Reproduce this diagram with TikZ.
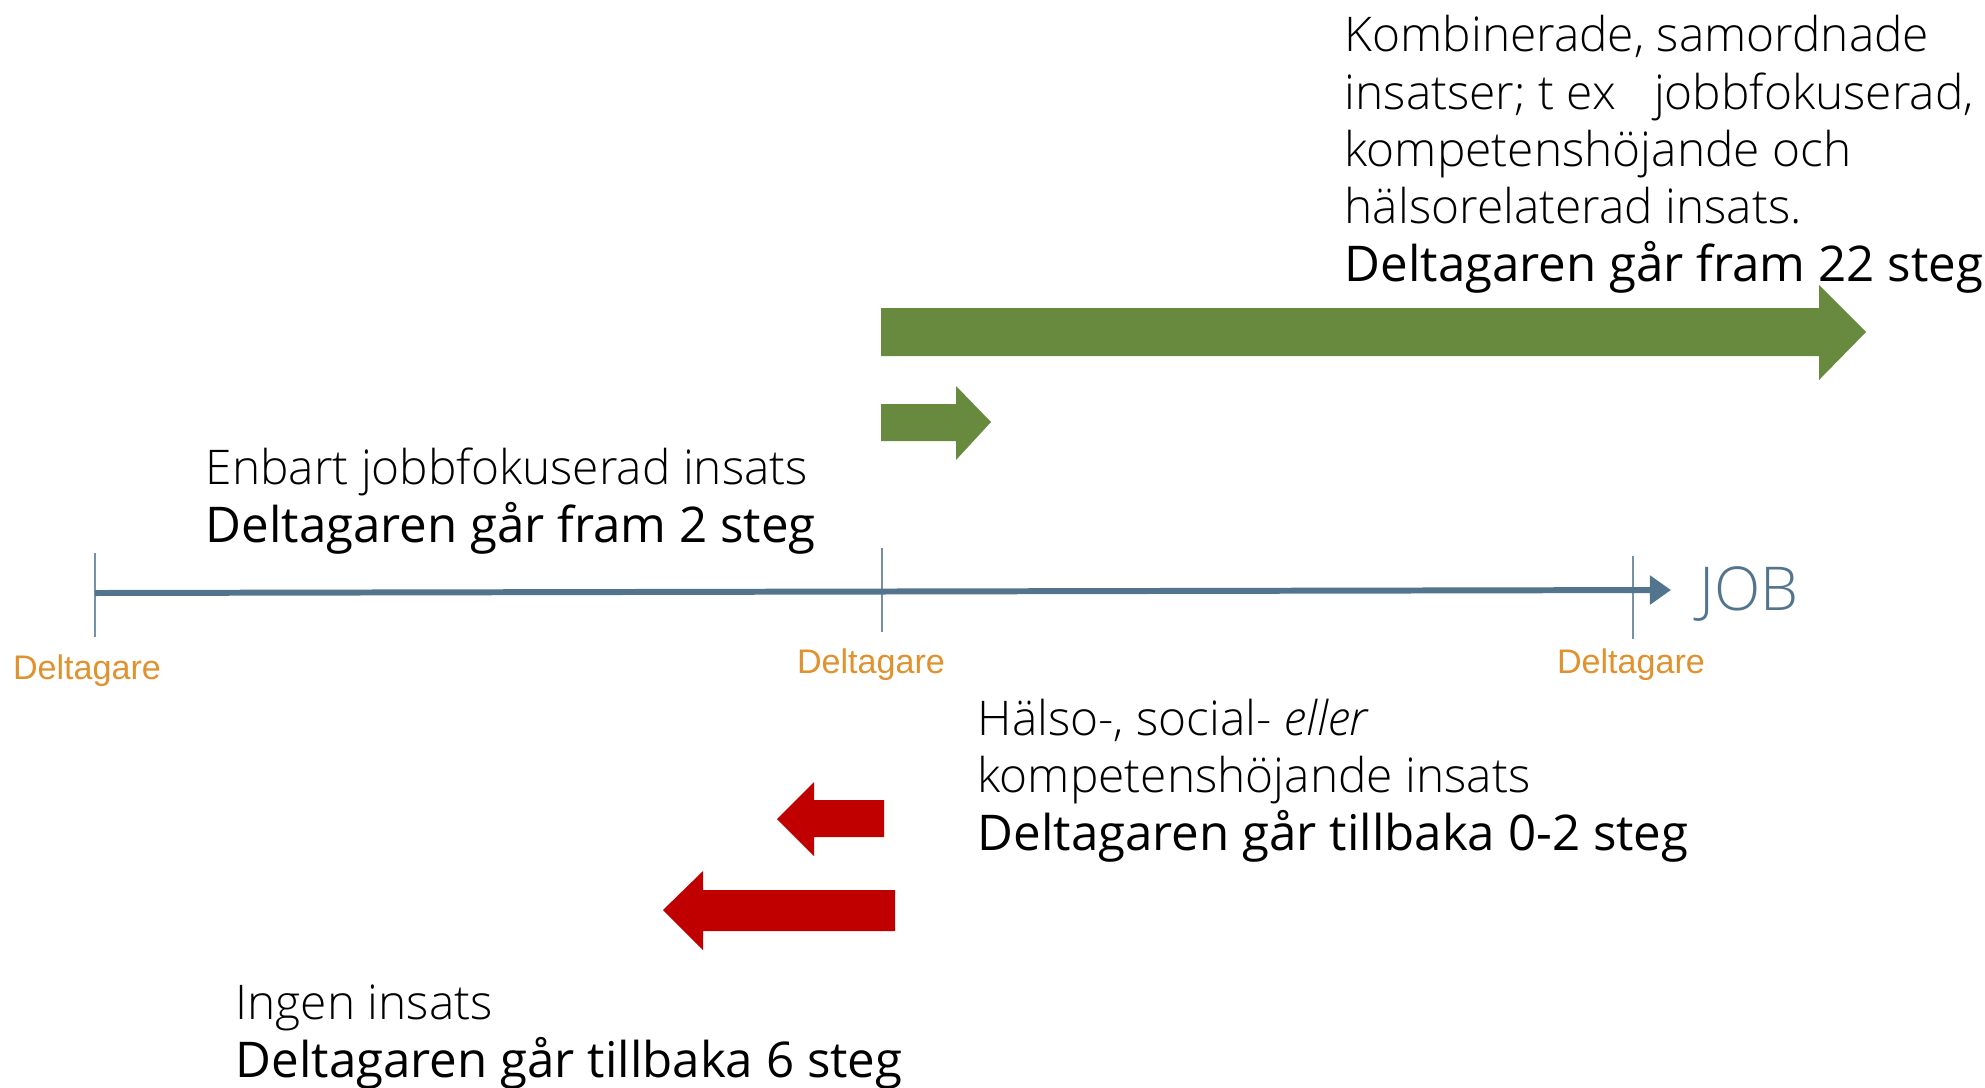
\documentclass[tikz,border=0pt]{standalone}
\usepackage{fontspec}
\setmainfont{Open Sans}
\newfontfamily\lightfont{Open Sans Light}
\newfontfamily\labelfont{Liberation Sans}
\usetikzlibrary{positioning,arrows.meta}

\definecolor{jobblue}{HTML}{52758D}
\definecolor{stepgreen}{HTML}{678A3F}
\definecolor{stepred}{HTML}{C00000}
\definecolor{labelorange}{HTML}{E0922F}

\newcommand{\resulttext}[1]{{\normalfont\fontsize{14}{16.3}\selectfont #1}}

\begin{document}
\begin{tikzpicture}[
    x=0.01cm, y=-0.01cm,
    every node/.style={inner sep=0pt, anchor=base west, align=left},
    steptext/.style={font=\lightfont\fontsize{13.6}{16.3}\selectfont},
    deltlabel/.style={anchor=base, text=labelorange, font=\labelfont\fontsize{9.7}{11}\selectfont},
    tick/.style={draw=jobblue!80, line width=0.6pt},
    timeline/.style={draw=jobblue, line width=1.7pt, -{Triangle[length=6pt, width=8pt]}},
    forward/.style={fill=stepgreen},
    backward/.style={fill=stepred}
]
\useasboundingbox (0,0) rectangle (1985,1087);

% timeline
\coordinate (start) at (95,593);
\coordinate (end) at (1671,590);
\draw[tick] (95,553) coordinate (t1a) -- (95,637) coordinate (t1b);
\draw[tick] (882,548) coordinate (t2a) -- (882,632) coordinate (t2b);
\draw[tick] (1633,556) coordinate (t3a) -- (1633,639) coordinate (t3b);
\draw[timeline] (start) -- (end);
\node (job) [anchor=west, text=jobblue, font=\lightfont\fontsize{17.2}{19}\selectfont] at (1699,594) {JOB};

\node (d1) [deltlabel] at (87,679) {Deltagare};
\node (d2) [deltlabel] at (871,673) {Deltagare};
\node (d3) [deltlabel] at (1631,673) {Deltagare};

% block arrows
\fill[forward] (881,308) -- (1819,308) -- (1819,285) -- (1866,332) -- (1819,380) -- (1819,356) -- (881,356) -- cycle;
\fill[forward] (881,404) -- (956,404) -- (956,386) -- (991,422) -- (956,460) -- (956,441) -- (881,441) -- cycle;
\fill[backward] (884,800) -- (814,800) -- (814,782) -- (777,819) -- (814,856) -- (814,837) -- (884,837) -- cycle;
\fill[backward] (895,890) -- (703,890) -- (703,871) -- (663,910) -- (703,950) -- (703,931) -- (895,931) -- cycle;

% texts (anchored on the last line)
\node (kombi) [steptext] at (1344,281) {Kombinerade, samordnade\\
    insatser; t ex\hspace{0.8em}jobbfokuserad,\\
    kompetenshöjande och\\
    hälsorelaterad insats.\\
    \resulttext{Deltagaren går fram 22 steg}};
\node (enbart) [steptext] at (205,542) {Enbart jobbfokuserad insats\\
    \resulttext{Deltagaren går fram 2 steg}};
\node (halso) [steptext] at (977,850) {Hälso-, social- \textit{eller}\\
    kompetenshöjande insats\\
    \resulttext{Deltagaren går tillbaka 0-2 steg}};
\node (ingen) [steptext] at (235,1077) {Ingen insats\\
    \resulttext{Deltagaren går tillbaka 6 steg}};

\end{tikzpicture}
\end{document}
